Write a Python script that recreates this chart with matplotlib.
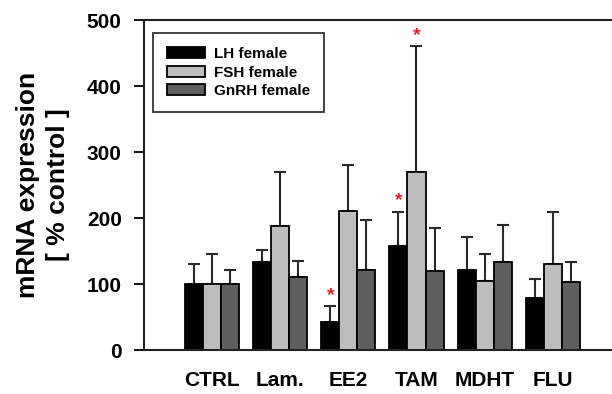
import numpy as np
import matplotlib
matplotlib.use("Agg")
from matplotlib import pyplot as plt

plt.rcParams['font.family'] = ['Liberation Sans', 'DejaVu Sans']
plt.rcParams['font.weight'] = 'bold'

# data (mean and upper error)
groups = ["CTRL", "Lam.", "EE2", "TAM", "MDHT", "FLU"]
series = ["LH female", "FSH female", "GnRH female"]
lh_mean = [100, 133, 43, 157, 121, 79]
lh_err = [30, 19, 23, 52, 50, 29]
fsh_mean = [100, 188, 211, 269, 105, 130]
fsh_err = [45, 81, 70, 191, 41, 79]
gnrh_mean = [100, 110, 121, 120, 134, 103]
gnrh_err = [21, 25, 76, 65, 55, 31]
# significant bars: (series index, group index)
stars = [(0, 2), (0, 3), (1, 3)]

colors = ["#000000", "#bdbdbd", "#5f5f5f"]
means = [lh_mean, fsh_mean, gnrh_mean]
errs = [lh_err, fsh_err, gnrh_err]

fig = plt.figure(figsize=(6.12, 3.94), dpi=100)
ax = fig.add_axes([144 / 612, 1 - 350 / 394, 1 - 144 / 612, 330 / 394])

x = np.arange(len(groups))
w = 0.265
for i in range(3):
    pos = x + (i - 1) * w
    ax.bar(pos, means[i], w, color=colors[i], edgecolor="black", linewidth=1.3,
           label=series[i], zorder=2)
    ax.errorbar(pos, means[i], yerr=[np.zeros(len(groups)), errs[i]], fmt="none",
                ecolor="#2a2a2a", elinewidth=1.5, capsize=4.5, capthick=1.5, zorder=1)

for s, g in stars:
    top = means[s][g] + errs[s][g]
    ax.text(x[g] + (s - 1) * w, top + 4, "*", color="#e8202a", ha="center", va="bottom",
            fontsize=14, fontweight="bold")

ax.set_xlim(-1.0, 5.87)
ax.set_ylim(0, 500)
ax.set_yticks([0, 100, 200, 300, 400, 500])
ax.set_xticks(x)
ax.set_xticklabels(groups, fontsize=15, fontweight="bold")
ax.tick_params(axis="x", length=0, pad=15)
ax.tick_params(axis="y", direction="out", length=7, width=1.3, labelsize=15, pad=9)
for lab in ax.get_yticklabels():
    lab.set_fontweight("bold")

ax.spines["right"].set_visible(False)
for sp in ["left", "top", "bottom"]:
    ax.spines[sp].set_linewidth(1.5)
    ax.spines[sp].set_color("#222222")

ax.set_ylabel("mRNA expression\n[ % control ]", fontsize=19, fontweight="bold",
              labelpad=12, linespacing=1.3)

leg = ax.legend(loc="upper left", bbox_to_anchor=(0.019, 0.96), fontsize=11,
                frameon=True, fancybox=False, edgecolor="black", borderaxespad=0,
                handlelength=2.5, handleheight=0.75, labelspacing=0.3,
                borderpad=0.9, handletextpad=0.6)
leg.get_frame().set_linewidth(1.3)
for t in leg.get_texts():
    t.set_fontweight("bold")

fig.savefig("out.png", dpi=100)
